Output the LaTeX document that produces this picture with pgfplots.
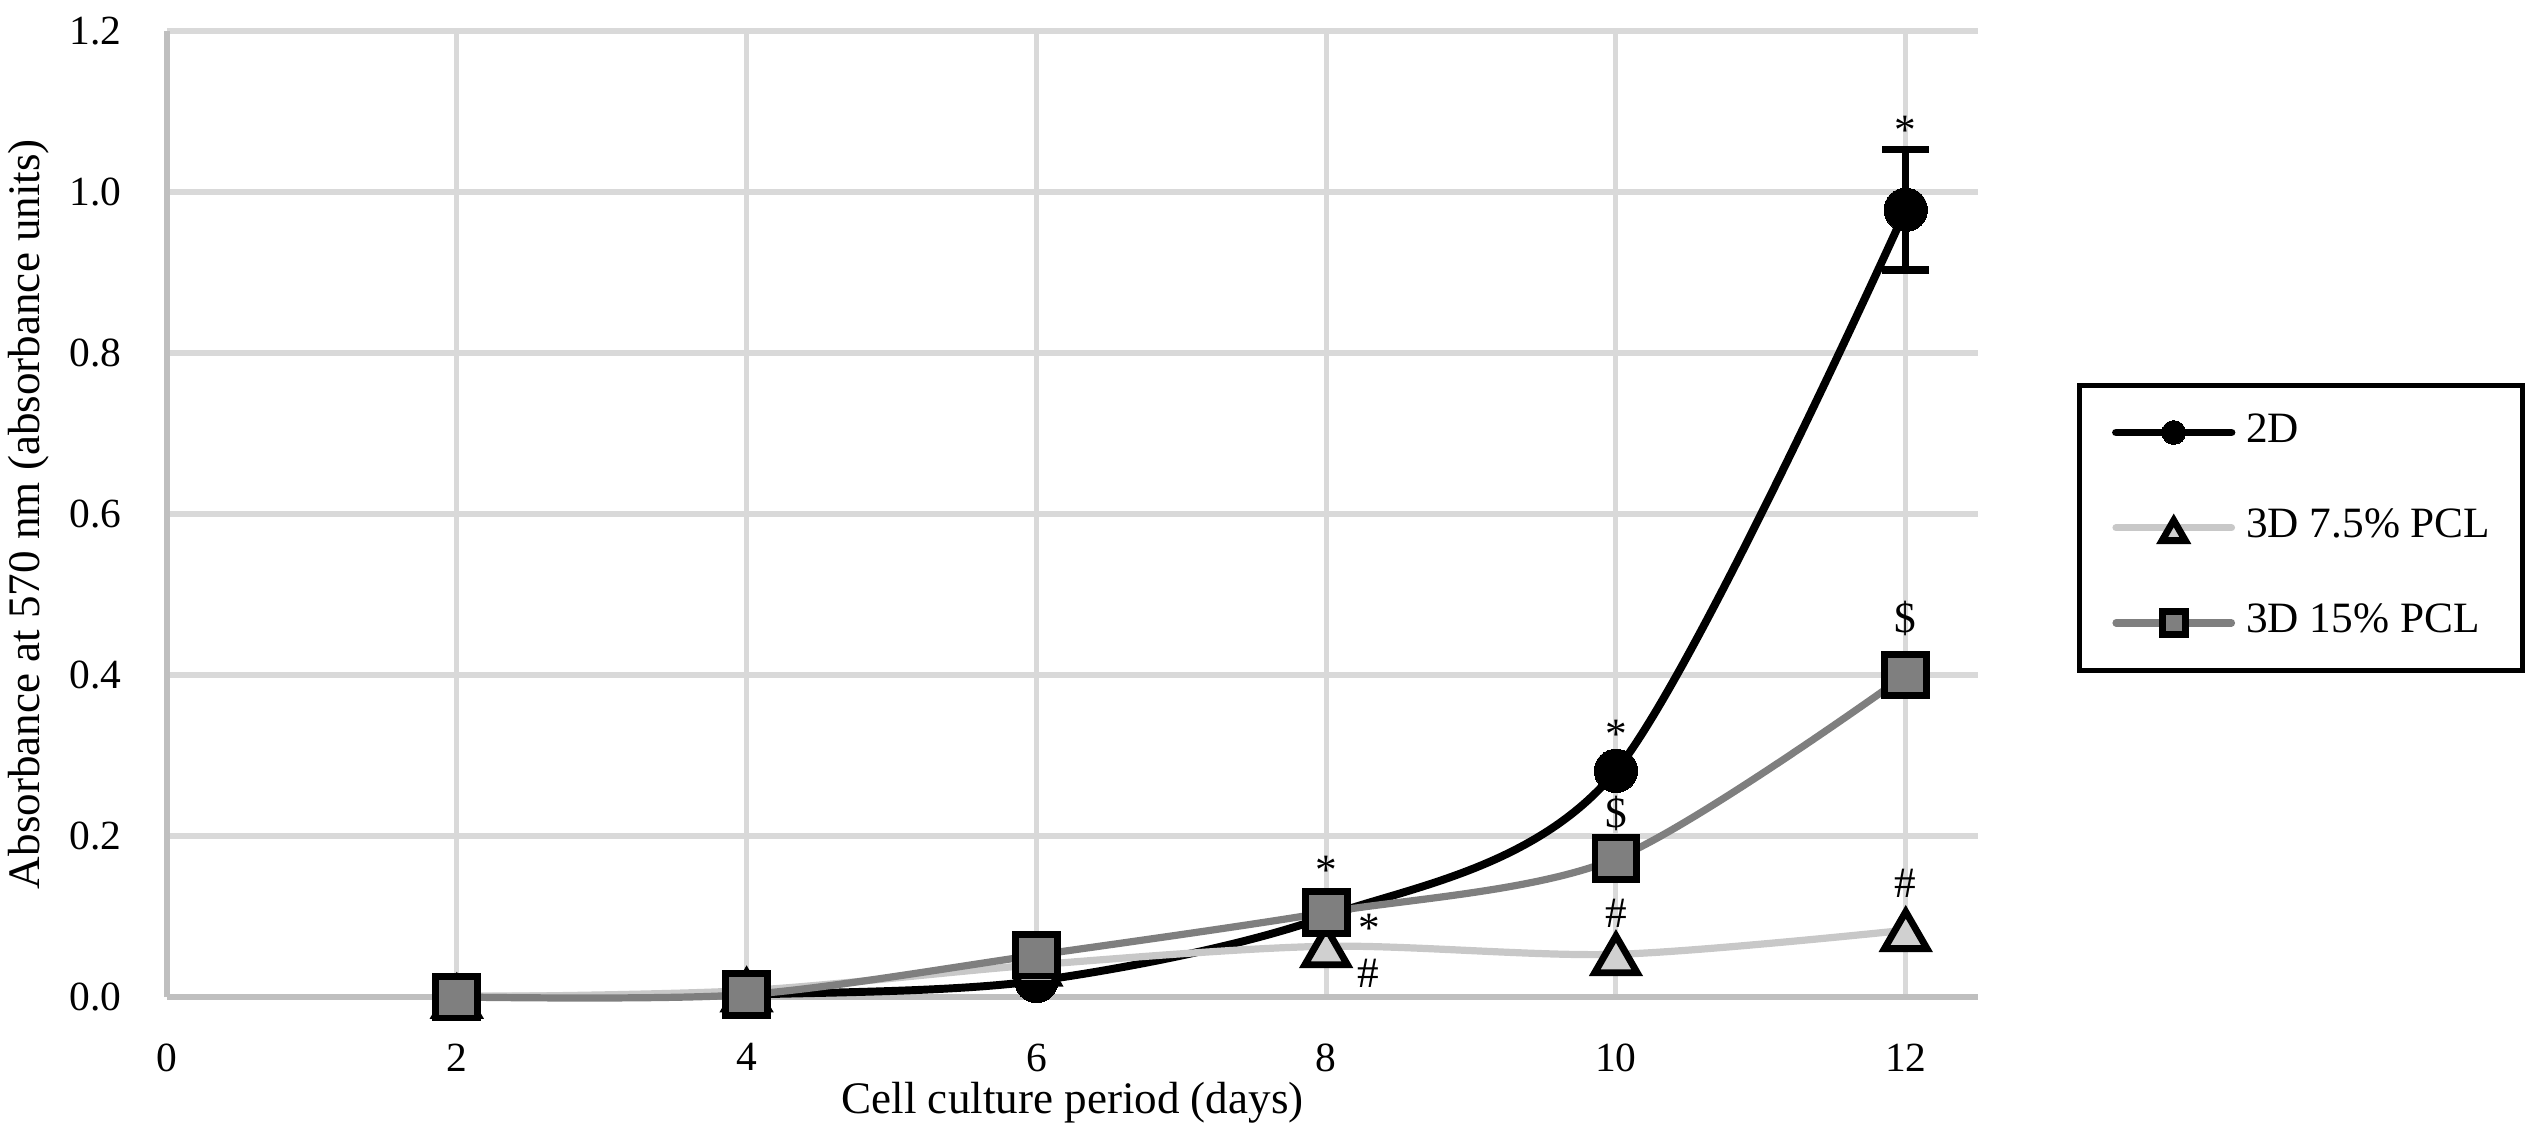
\documentclass[border=0pt]{standalone}
\usepackage{fontspec}
\setmainfont{Liberation Serif}
\usepackage{pgfplots}
\pgfplotsset{compat=1.18}

\definecolor{gridgray}{HTML}{D9D9D9}
\definecolor{axisgray}{HTML}{BFBFBF}
\definecolor{lightline}{HTML}{C8C8C8}
\definecolor{lightfill}{HTML}{D0D0D0}
\definecolor{midgray}{HTML}{7F7F7F}

\newcommand{\tickfont}{\fontsize{11.5}{13}\selectfont}
\newcommand{\labfont}{\fontsize{12.5}{15}\selectfont}
\newcommand{\annfont}{\fontsize{12}{14}\selectfont}

\begin{document}
\begin{tikzpicture}
\begin{axis}[
    at={(46.3pt,38.26pt)}, anchor=south west,
    width=502.1pt, height=267.8pt, scale only axis,
    xmin=0, xmax=12.5,
    ymin=0, ymax=1.2,
    xtick={0,2,4,6,8,10,12},
    ytick={0,0.2,0.4,0.6,0.8,1.0,1.2},
    axis x line*=bottom, axis y line*=left,
    axis line style={-, axisgray, line width=1.8pt},
    major tick length=0pt,
    grid=major,
    grid style={gridgray, line width=1.4pt},
    /pgf/number format/assume math mode=true,
    xticklabel style={font=\tickfont, inner sep=0pt, anchor=north, yshift=-12.7pt},
    yticklabel style={font=\tickfont, inner sep=0pt, anchor=east, xshift=-12.5pt,
        /pgf/number format/.cd, fixed, fixed zerofill, precision=1},
    xlabel={Cell culture period (days)},
    xlabel style={font=\labfont, inner sep=0pt, at={(axis description cs:0.5,-0.1202)}, anchor=base},
    ylabel={Absorbance at 570 nm (absorbance units)},
    ylabel style={font=\labfont, inner sep=0pt, at={(axis description cs:-0.0763,0.5)}, anchor=center},
    clip=false,
    legend cell align=left,
    legend style={at={(1.0546,0.6357)}, anchor=north west,
        draw=black, line width=1.4pt,
        font=\annfont,
        inner xsep=9pt, inner ysep=7.8pt,
        row sep=15.9pt, column sep=3pt,
        nodes={inner sep=0pt, text height=8pt, text depth=2.5pt},
        cells={anchor=west}},
    legend image code/.code={
        \draw[mark repeat=2, mark phase=2, line cap=round, #1,
              every mark/.append style={scale=0.55}]
            plot coordinates {(0pt,0pt) (16pt,0pt) (32pt,0pt)};
    },
]

% 2D
\addplot[black, line width=2.2pt, smooth, mark=*, mark size=6pt,
    mark options={fill=black, draw=black, line width=0pt}]
    coordinates {(2,0) (4,0.003) (6,0.02) (8,0.10) (10,0.281) (12,0.978)};
\addlegendentry{2D}

% 3D 7.5% PCL
\addplot[lightline, line width=2pt, smooth, mark=triangle*, mark size=6.8pt,
    mark options={fill=lightfill, draw=black, line width=1.9pt, yshift=-1.7pt}]
    coordinates {(2,0) (4,0.008) (6,0.04) (8,0.063) (10,0.053) (12,0.083)};
\addlegendentry{3D 7.5\% PCL}

% 3D 15% PCL
\addplot[midgray, line width=2pt, smooth, mark=square*, mark size=5.8pt,
    mark options={fill=midgray, draw=black, line width=1.9pt}]
    coordinates {(2,0) (4,0.003) (6,0.052) (8,0.105) (10,0.172) (12,0.40)};
\addlegendentry{3D 15\% PCL}

% error bar on the 2D point at day 12
\addplot[black, line width=0pt, mark=none, forget plot,
    error bars/.cd, y dir=both, y explicit,
    error bar style={black, line width=2pt},
    error mark options={rotate=90, mark size=6.5pt, line width=2pt, black}]
    coordinates {(12,0.978) +- (0,0.075)};

% significance marks
\node[font=\annfont, inner sep=0pt, yshift=-2pt] at (axis cs:12,1.085) {*};
\node[font=\annfont, inner sep=0pt] at (axis cs:12,0.47) {\$};
\node[font=\annfont, inner sep=0pt] at (axis cs:12,0.141) {\#};
\node[font=\annfont, inner sep=0pt, yshift=-2pt] at (axis cs:10,0.335) {*};
\node[font=\annfont, inner sep=0pt] at (axis cs:10,0.228) {\$};
\node[font=\annfont, inner sep=0pt] at (axis cs:10,0.104) {\#};
\node[font=\annfont, inner sep=0pt, yshift=-2pt] at (axis cs:8,0.166) {*};
\node[font=\annfont, inner sep=0pt, yshift=-2pt] at (axis cs:8.30,0.094) {*};
\node[font=\annfont, inner sep=0pt] at (axis cs:8.29,0.029) {\#};
\end{axis}
\pgfresetboundingbox
\path (0,0) rectangle (700pt,314.66pt);
\end{tikzpicture}
\end{document}
